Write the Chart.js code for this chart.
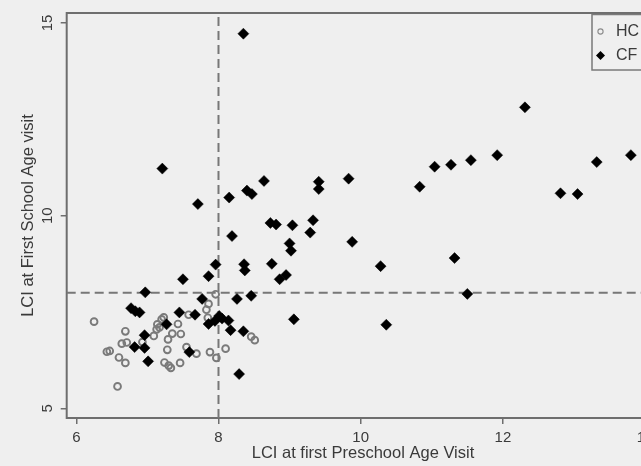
<!DOCTYPE html>
<html>
<head>
<meta charset="utf-8">
<title>LCI preschool vs school age</title>
<script src="https://cdn.jsdelivr.net/npm/chart.js@4.4.1/dist/chart.umd.min.js"></script>
<style>
  html, body { margin: 0; padding: 0; background: #efefef; overflow: hidden; }
  #wrap { width: 670px; height: 466px; }
</style>
</head>
<body>
<div id="wrap"><canvas id="chart" width="670" height="466"></canvas></div>
<script>
// LCI values: x = first preschool visit, y = first school age visit
const hcX = [6.25, 7.58, 7.20, 7.14, 7.13, 7.23, 7.43, 7.35, 7.47, 7.29, 7.09, 6.69, 6.64, 6.71, 6.93,
             6.43, 6.47, 6.60, 6.69, 7.28, 7.24, 7.30, 7.33, 7.46, 6.58, 7.55, 7.69, 7.88, 7.97, 8.10,
             7.96, 7.86, 7.83, 7.85, 8.46, 8.51, 7.17];
const hcY = [7.25, 7.43, 7.31, 7.18, 7.05, 7.36, 7.19, 6.94, 6.93, 6.79, 6.88, 7.00, 6.68, 6.71, 6.72,
             6.47, 6.49, 6.32, 6.18, 6.52, 6.19, 6.11, 6.05, 6.18, 5.57, 6.59, 6.42, 6.46, 6.31, 6.55,
             7.96, 7.71, 7.56, 7.35, 6.86, 6.77, 7.10];

const cfX = [8.35, 7.21, 7.71, 8.15, 8.40, 8.47, 8.64, 9.41, 9.41, 8.73, 8.81, 9.04, 9.33, 9.29, 8.19,
             9.00, 9.02, 12.31, 11.92, 11.55, 11.27, 11.04, 10.83, 9.83, 12.81, 13.05, 13.32, 13.80, 9.88, 10.28,
             11.32, 11.50, 10.36, 7.96, 8.36, 8.37, 8.75, 7.50, 7.86, 8.86, 8.95, 6.97, 6.77, 6.83, 6.89,
             7.45, 7.67, 7.27, 6.96, 6.82, 6.96, 7.01, 7.59, 7.77, 8.26, 8.46, 8.01, 7.95, 7.86, 8.05,
             8.14, 8.17, 8.35, 9.06, 8.29];
const cfY = [14.72, 11.22, 10.30, 10.47, 10.65, 10.56, 10.90, 10.88, 10.69, 9.81, 9.77, 9.75, 9.88, 9.56, 9.47,
             9.28, 9.09, 12.81, 11.57, 11.44, 11.32, 11.27, 10.75, 10.96, 10.58, 10.56, 11.39, 11.57, 9.32, 8.69,
             8.90, 7.97, 7.17, 8.73, 8.74, 8.58, 8.75, 8.35, 8.43, 8.35, 8.46, 8.01, 7.60, 7.52, 7.49,
             7.49, 7.43, 7.18, 6.90, 6.59, 6.57, 6.22, 6.46, 7.84, 7.84, 7.92, 7.40, 7.27, 7.19, 7.33,
             7.28, 7.03, 7.00, 7.31, 5.89];

const xTicks = [6, 8, 10, 12, 14];
const yTicks = [5, 10, 15];
const cutX = 8;   // dashed reference lines
const cutY = 8;
const groups = ['HC', 'CF'];

const xMin = 5.865, xMax = 14.2;
const yMin = 4.751, yMax = 15.257;

const axisGrey = '#6e6e6e';
const textCol = '#3a3a3a';
const font = 'Liberation Sans, Arial, Helvetica, sans-serif';

const toPts = (xs, ys) => xs.map((x, i) => ({ x: x, y: ys[i] }));

// frame round the plot + the HC/CF key box in the top right corner
const framePlugin = {
  id: 'frame',
  beforeDatasetsDraw(chart) {
    const { ctx, chartArea: a } = chart;
    ctx.save();
    ctx.strokeStyle = axisGrey;
    ctx.lineWidth = 2;
    ctx.strokeRect(a.left, a.top, a.right - a.left, a.bottom - a.top);
    ctx.restore();
  },
  afterDraw(chart) {
    const ctx = chart.ctx;
    ctx.save();
    ctx.fillStyle = '#efefef';
    ctx.fillRect(592, 14, 100, 56);
    ctx.strokeStyle = '#7a7a7a';
    ctx.lineWidth = 1.5;
    ctx.strokeRect(592, 14.5, 100, 55.5);
    ctx.strokeStyle = '#8a8a8a';
    ctx.lineWidth = 1.1;
    ctx.beginPath();
    ctx.arc(600.5, 31.5, 2.6, 0, Math.PI * 2);
    ctx.stroke();
    ctx.fillStyle = '#000';
    ctx.beginPath();
    ctx.moveTo(600.5, 51); ctx.lineTo(605, 55.5); ctx.lineTo(600.5, 60); ctx.lineTo(596, 55.5);
    ctx.closePath();
    ctx.fill();
    ctx.fillStyle = textCol;
    ctx.font = '16px ' + font;
    ctx.textBaseline = 'middle';
    ctx.fillText(groups[0], 616, 32);
    ctx.fillText(groups[1], 616, 56);
    ctx.restore();
  }
};

new Chart(document.getElementById('chart'), {
  type: 'scatter',
  data: {
    datasets: [
      {
        label: groups[1],
        data: toPts(cfX, cfY),
        pointStyle: 'rectRot',
        pointRadius: 5.5,
        backgroundColor: '#000',
        borderColor: '#000',
        borderWidth: 0.5
      },
      {
        label: groups[0],
        data: toPts(hcX, hcY),
        pointStyle: 'circle',
        pointRadius: 3.4,
        backgroundColor: 'rgba(0,0,0,0)',
        borderColor: '#7a7a7a',
        borderWidth: 1.9
      },
      {
        type: 'line',
        label: 'cutX',
        data: [{ x: cutX, y: yMin }, { x: cutX, y: yMax }],
        borderColor: '#777',
        borderWidth: 2,
        borderDash: [9, 5],
        pointRadius: 0
      },
      {
        type: 'line',
        label: 'cutY',
        data: [{ x: xMin, y: cutY }, { x: xMax, y: cutY }],
        borderColor: '#777',
        borderWidth: 2,
        borderDash: [9, 5],
        pointRadius: 0
      }
    ]
  },
  options: {
    responsive: false,
    animation: false,
    devicePixelRatio: 1,
    layout: { padding: { left: 0, top: 9, right: 10.7, bottom: 0 } },
    plugins: { legend: { display: false }, tooltip: { enabled: false } },
    scales: {
      x: {
        type: 'linear',
        min: xMin,
        max: xMax,
        afterBuildTicks: s => { s.ticks = xTicks.map(v => ({ value: v })); },
        afterFit: s => { s.height = 48; },
        border: { display: false },
        grid: { drawOnChartArea: false, drawTicks: true, tickLength: 6, color: axisGrey, lineWidth: 1.5 },
        ticks: { color: textCol, font: { size: 15, family: font }, padding: 5, maxRotation: 0 },
        title: { display: true, text: 'LCI at first Preschool Age Visit', color: textCol,
                 font: { size: 16.5, family: font }, padding: { top: 0, bottom: 3 } }
      },
      y: {
        type: 'linear',
        min: yMin,
        max: yMax,
        afterBuildTicks: s => { s.ticks = yTicks.map(v => ({ value: v })); },
        afterFit: s => { s.width = 66.7; },
        border: { display: false },
        grid: { drawOnChartArea: false, drawTicks: true, tickLength: 6, color: axisGrey, lineWidth: 1.5 },
        ticks: { color: textCol, font: { size: 15, family: font }, padding: 4,
                 minRotation: 90, maxRotation: 90, crossAlign: 'center' },
        title: { display: true, text: 'LCI at First School Age visit', color: textCol,
                 font: { size: 16.5, family: font }, padding: { top: 18.6, bottom: 0 } }
      }
    }
  },
  plugins: [framePlugin]
});
</script>
</body>
</html>
